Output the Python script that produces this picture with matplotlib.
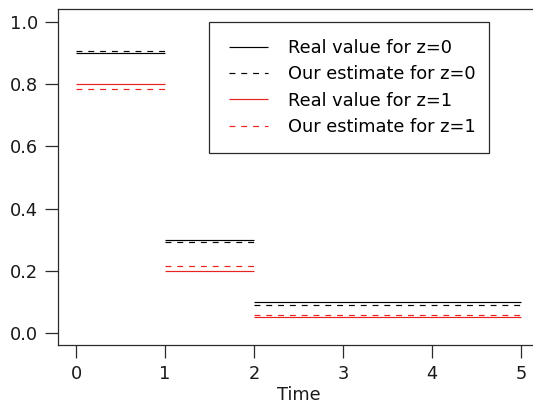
import matplotlib
matplotlib.use("Agg")
import matplotlib.pyplot as plt
from matplotlib.patches import Rectangle

# Piecewise-constant hazard over time intervals
breaks = [0, 1, 2, 5]
real_z0 = [0.90, 0.30, 0.10]
est_z0 = [0.907, 0.291, 0.091]
real_z1 = [0.80, 0.20, 0.05]
est_z1 = [0.785, 0.214, 0.059]

series_labels = ["Real value for z=0", "Our estimate for z=0",
                 "Real value for z=1", "Our estimate for z=1"]
x_ticks = [0, 1, 2, 3, 4, 5]
y_ticks = [0.0, 0.2, 0.4, 0.6, 0.8, 1.0]
y_ticklabels = ["0.0", "0.2", "0.4", "0.6", "0.8", "1.0"]

W, H = 533, 411
plt.rcParams["font.family"] = "DejaVu Sans"
plt.rcParams["font.size"] = 12.8

fig = plt.figure(figsize=(W / 100, H / 100), dpi=100)
ax = fig.add_axes([58.2 / W, 65.6 / H, 480.6 / W, 336 / H])

dash = (0, (5, 5))
red = "#e8231d"
lw = 0.85
starts, ends = breaks[:-1], breaks[1:]
h1 = ax.hlines(real_z0, starts, ends, colors="black", linewidth=lw)
h2 = ax.hlines(est_z0, starts, ends, colors="black", linewidth=lw, linestyles=[dash])
h3 = ax.hlines(real_z1, starts, ends, colors=red, linewidth=lw)
h4 = ax.hlines(est_z1, starts, ends, colors=red, linewidth=lw, linestyles=[dash])

ax.set_xlim(-0.2, 5.2)
ax.set_ylim(-0.04, 1.04)
ax.set_xticks(x_ticks)
ax.set_yticks(y_ticks)
ax.set_yticklabels(y_ticklabels)
ax.set_xlabel("Time", color="#1a1a1a", labelpad=2)

spine_c = "#2a2a2a"
for s in ax.spines.values():
    s.set_color(spine_c)
    s.set_linewidth(0.9)
ax.spines["right"].set_visible(False)
ax.tick_params(direction="out", length=9.4, width=0.9, color=spine_c,
               labelcolor="#1a1a1a")
ax.tick_params(axis="y", pad=5)
ax.tick_params(axis="x", pad=5)

# Legend box with wider left margin
fig.patches.append(Rectangle((209 / W, 1 - 153 / H), 280 / W, 131 / H,
                             transform=fig.transFigure, facecolor="white",
                             edgecolor=spine_c, linewidth=0.9, zorder=1))
fig.legend([h1, h2, h3, h4], series_labels, loc="upper left",
           bbox_to_anchor=(229 / W, 1 - 39.0 / H), bbox_transform=fig.transFigure,
           frameon=False, borderpad=0, borderaxespad=0,
           handlelength=2.19, handletextpad=1.12, labelspacing=0.47)

fig.savefig("out.png", dpi=100)
